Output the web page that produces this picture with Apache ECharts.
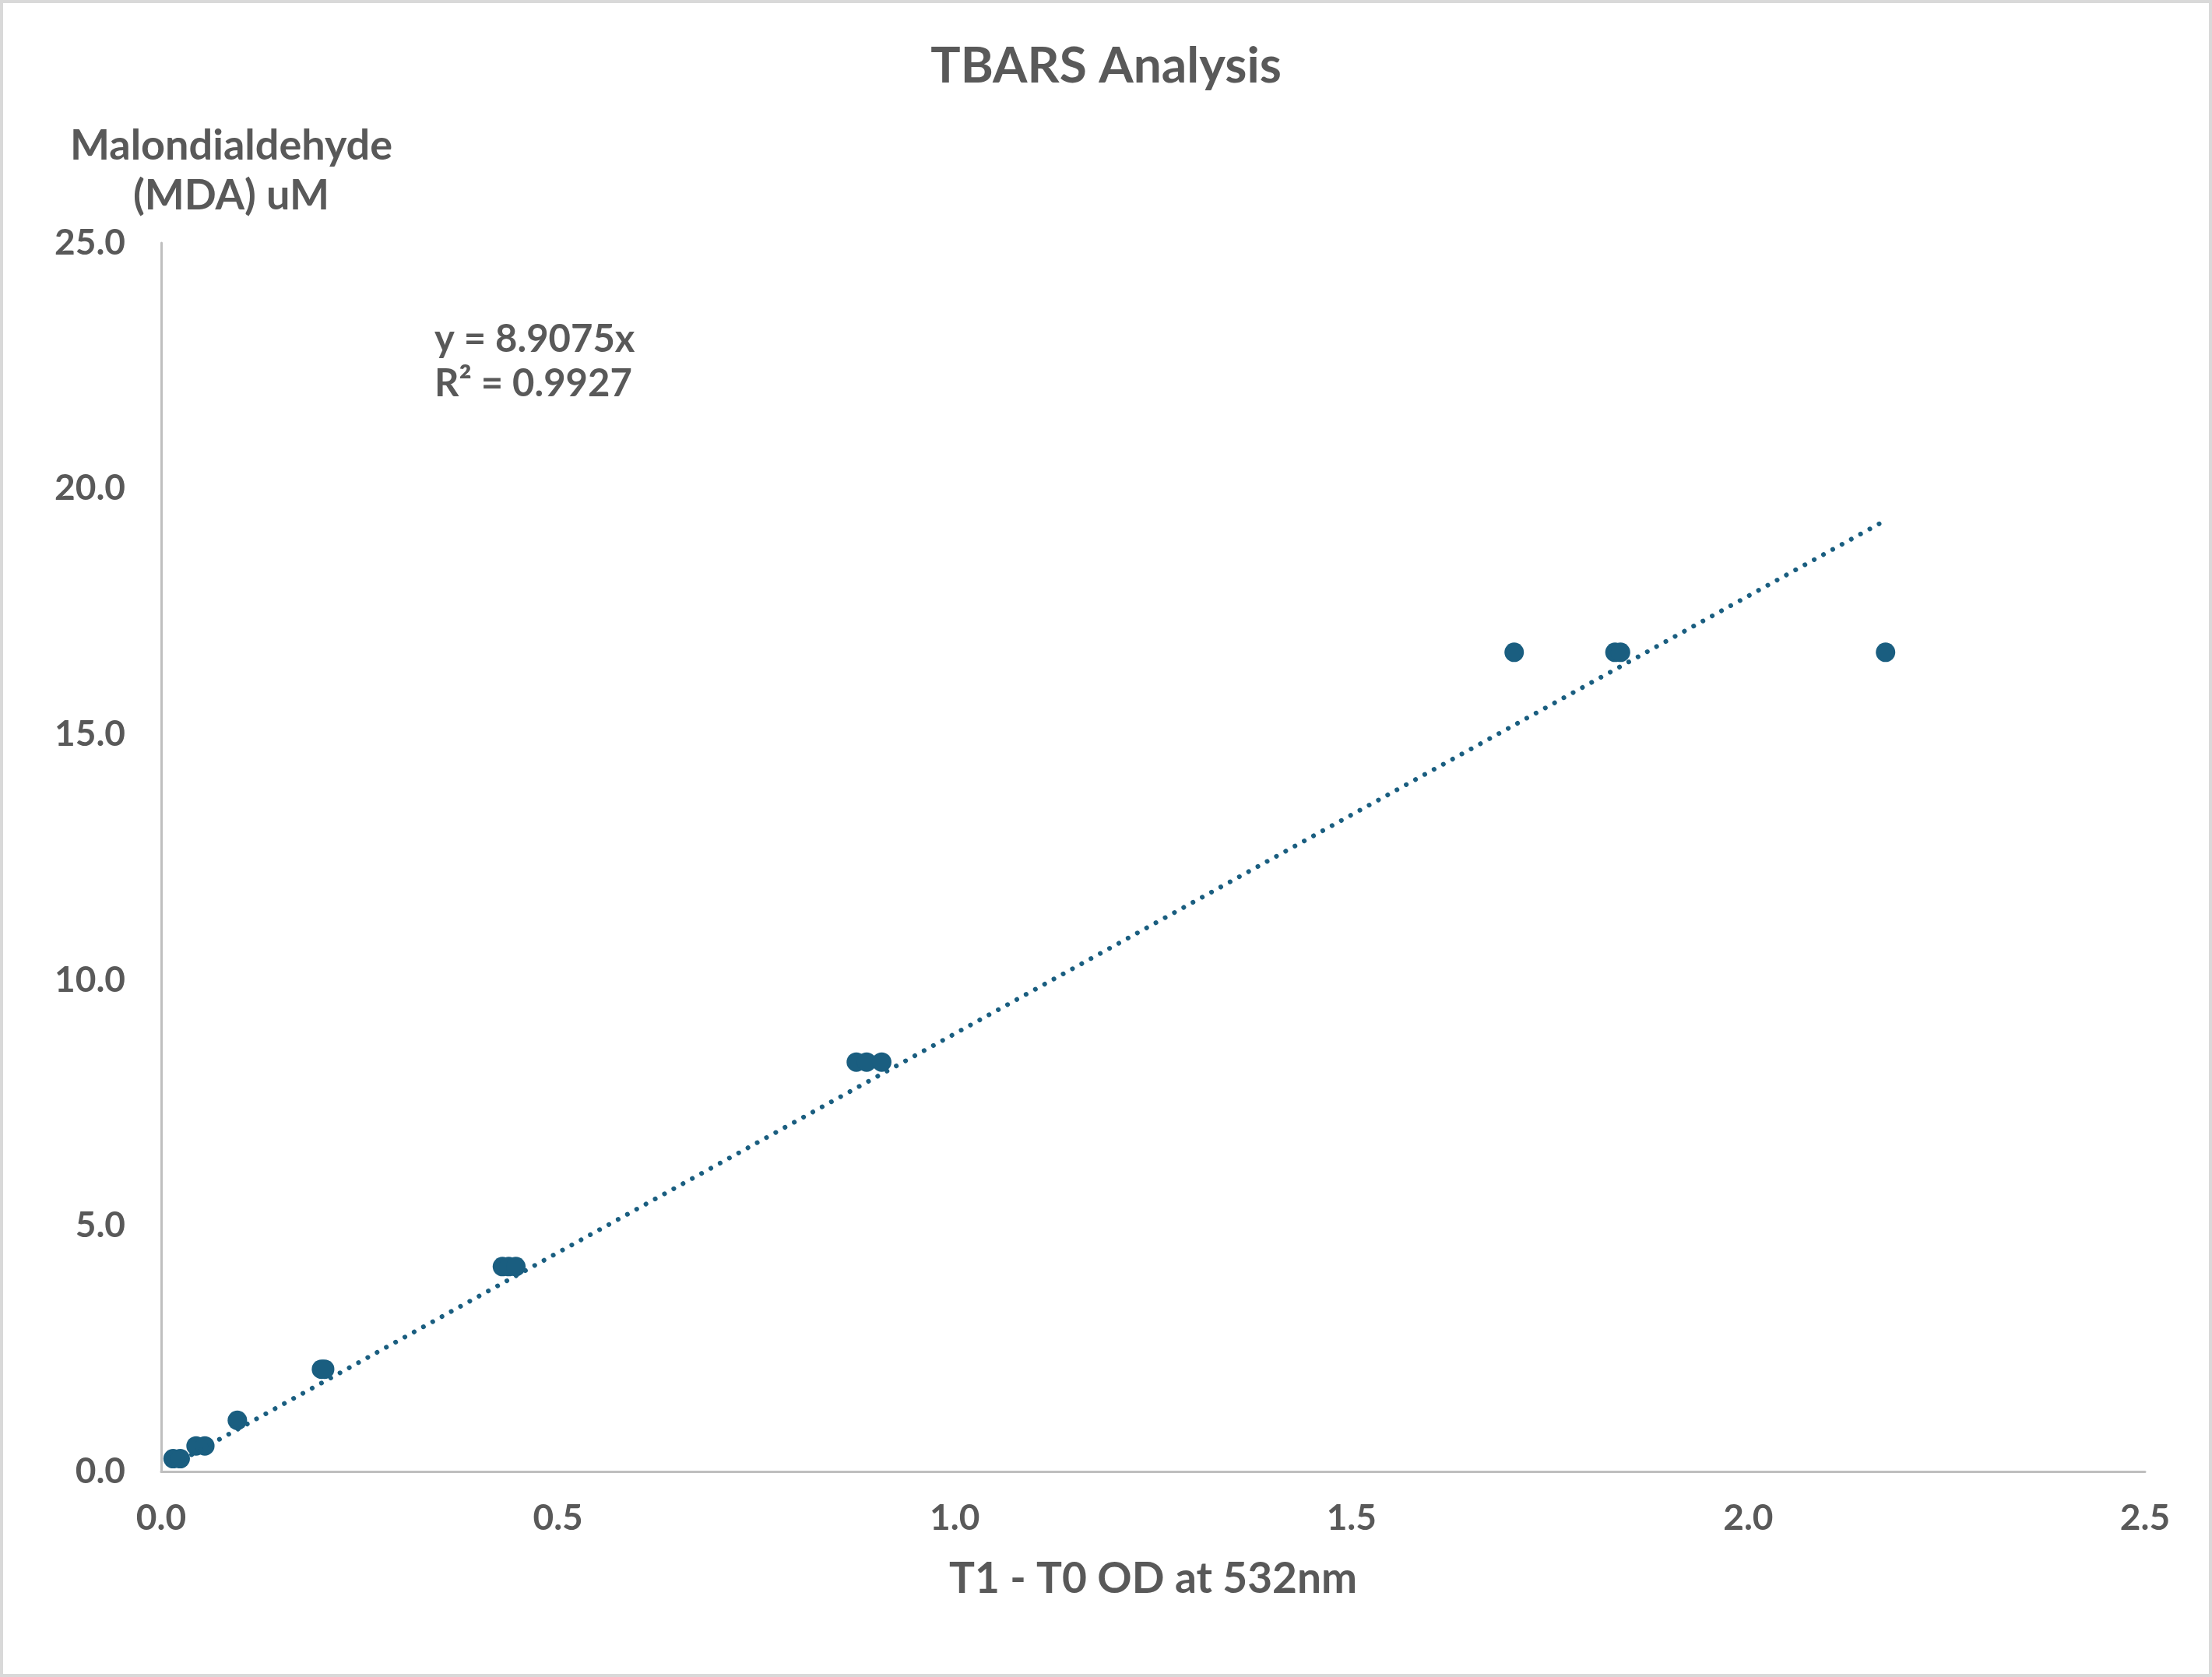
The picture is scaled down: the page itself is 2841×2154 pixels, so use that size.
<!DOCTYPE html>
<html>
<head>
<meta charset="utf-8">
<script src="https://cdn.jsdelivr.net/npm/echarts@6/dist/echarts.min.js"></script>
<style>
  html, body { margin: 0; padding: 0; background: #fff; }
  #main { width: 2841px; height: 2154px; box-sizing: border-box; border: 4px solid #d9d9d9; }
</style>
</head>
<body>
<div id="main"></div>
<script>
// T1 - T0 OD at 532nm vs MDA standard (uM)
var odValues = [0.015, 0.024, 0.044, 0.055, 0.096, 0.202, 0.206, 0.430, 0.438, 0.447,
                0.876, 0.889, 0.908, 1.705, 1.832, 1.839, 2.173];
var mdaValues = [0.26, 0.26, 0.52, 0.52, 1.04, 2.08, 2.08, 4.17, 4.17, 4.17,
                 8.33, 8.33, 8.33, 16.67, 16.67, 16.67, 16.67];
var slope = 8.9075;
var rSquared = 0.9927;

var textColor = '#595959';
var markColor = '#1a5e80';
var font = 'Lato, "Open Sans", sans-serif';

var points = odValues.map(function (x, i) { return [x, mdaValues[i]]; });
var xMin = Math.min.apply(null, odValues);
var xMax = Math.max.apply(null, odValues);
var trend = [[xMin, slope * xMin], [xMax, slope * xMax]];

var myChart = echarts.init(document.getElementById('main'), null, { renderer: 'canvas' });

var option = {
  backgroundColor: '#fff',
  animation: false,
  title: {
    text: 'TBARS Analysis',
    left: 'center',
    top: 44,
    textStyle: { color: textColor, fontFamily: font, fontWeight: 'bold', fontSize: 64, lineHeight: 64 }
  },
  grid: { left: 203, right: 82, top: 308, bottom: 260, containLabel: false, outerBoundsMode: 'none' },
  xAxis: {
    type: 'value',
    min: 0,
    max: 2.5,
    interval: 0.5,
    name: 'T1 - T0 OD at 532nm',
    nameLocation: 'middle',
    nameGap: 105,
    nameTextStyle: { color: textColor, fontFamily: font, fontWeight: 'bold', fontSize: 55, lineHeight: 66 },
    axisLine: { show: true, lineStyle: { color: '#bfbfbf', width: 3 } },
    axisTick: { show: false },
    splitLine: { show: false },
    axisLabel: {
      color: textColor, fontFamily: font, fontWeight: 'bold', fontSize: 46, lineHeight: 56, margin: 32,
      formatter: function (v) { return v.toFixed(1); }
    }
  },
  yAxis: {
    type: 'value',
    min: 0,
    max: 25,
    interval: 5,
    name: 'Malondialdehyde\n(MDA) uM',
    nameLocation: 'end',
    nameGap: 28,
    nameTextStyle: {
      color: textColor, fontFamily: font, fontWeight: 'bold', fontSize: 54, lineHeight: 64,
      align: 'center', padding: [0, 0, 0, 180]
    },
    axisLine: { show: true, lineStyle: { color: '#bfbfbf', width: 3 } },
    axisTick: { show: false },
    splitLine: { show: false },
    axisLabel: {
      color: textColor, fontFamily: font, fontWeight: 'bold', fontSize: 46, margin: 46,
      formatter: function (v) { return v.toFixed(1); }
    }
  },
  graphic: [
    {
      type: 'text',
      left: 554,
      top: 404,
      style: {
        text: 'y = ' + slope + 'x\nR² = ' + rSquared,
        fill: textColor,
        font: 'bold 49px ' + font,
        lineHeight: 57,
        align: 'center'
      }
    }
  ],
  series: [
    {
      name: 'Trendline',
      type: 'line',
      data: trend,
      symbol: 'none',
      silent: true,
      lineStyle: { color: markColor, width: 6, type: [0.1, 13.5], cap: 'round' },
      z: 3
    },
    {
      name: 'MDA',
      type: 'scatter',
      data: points,
      symbol: 'circle',
      symbolSize: 25,
      itemStyle: { color: markColor, opacity: 1 },
      z: 2
    }
  ]
};

myChart.setOption(option);
</script>
</body>
</html>
